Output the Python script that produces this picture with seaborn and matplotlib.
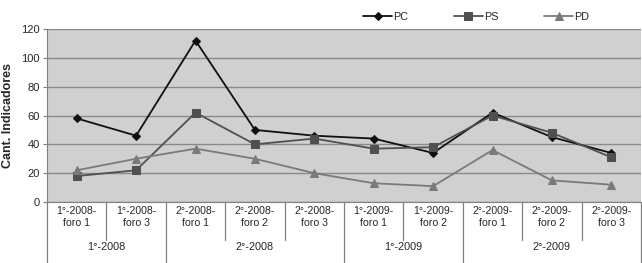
import matplotlib
matplotlib.use("Agg")
import matplotlib.pyplot as plt
import matplotlib.transforms as mtransforms
import seaborn as sns
import pandas as pd

categories = ["1°-2008-\nforo 1", "1°-2008-\nforo 3", "2°-2008-\nforo 1", "2°-2008-\nforo 2",
              "2°-2008-\nforo 3", "1°-2009-\nforo 1", "1°-2009-\nforo 2", "2°-2009-\nforo 1",
              "2°-2009-\nforo 2", "2°-2009-\nforo 3"]
groups = ["1°-2008", "2°-2008", "1°-2009", "2°-2009"]
group_sizes = [2, 3, 2, 3]
pc = [58, 46, 112, 50, 46, 44, 34, 62, 45, 34]
ps = [18, 22, 62, 40, 44, 37, 38, 60, 48, 31]
pd_ = [22, 30, 37, 30, 20, 13, 11, 36, 15, 12]
yticks = [0, 20, 40, 60, 80, 100, 120]

sns.set_style("white")
plt.rcParams['font.family'] = ['Liberation Sans', 'DejaVu Sans']

fig = plt.figure(figsize=(6.42, 2.63), dpi=100)
ax = fig.add_axes([47/642, 1-202/263, 594/642, 173/263])
ax.set_facecolor("#d0d0d0")

x = list(range(len(categories)))
series = [("PC", pc, "#101010", "D", 4.5), ("PS", ps, "#505050", "s", 5.5), ("PD", pd_, "#7a7a7a", "^", 5.5)]
for name, vals, col, mk, ms in series:
    sns.lineplot(x=x, y=vals, ax=ax, color=col, marker=mk, markersize=ms, markeredgecolor=col,
                 linewidth=1.3, label=name)

ax.set_xlim(-0.5, len(categories) - 0.5)
ax.set_ylim(0, 120)
ax.set_yticks(yticks)
ax.yaxis.grid(True, color="#8a8a8a", linewidth=1)
ax.set_axisbelow(True)
for s in ["top", "right"]:
    ax.spines[s].set_visible(False)
ax.spines["left"].set_color("#808080")
ax.spines["bottom"].set_color("#808080")
ax.tick_params(axis="y", length=3, color="#808080", labelsize=8, pad=2, left=True)
ax.set_xticks(x)
ax.set_xticklabels(categories, fontsize=7.6, linespacing=1.2)
ax.tick_params(axis="x", length=0, pad=3)
ax.set_ylabel("Cant. Indicadores", fontsize=9, fontweight="bold", labelpad=5)

trans = mtransforms.blended_transform_factory(ax.transData, ax.transAxes)
bounds = []
pos = -0.5
for g in group_sizes:
    bounds.append(pos)
    pos += g
bounds.append(pos)
for i in range(len(categories) + 1):
    b = i - 0.5
    bottom = -0.36 if b in bounds else -0.22
    ax.plot([b, b], [0, bottom], transform=trans, color="#808080", linewidth=0.9, clip_on=False)

start = -0.5
for g, n in zip(groups, group_sizes):
    ax.text(start + n / 2, -0.26, g, transform=trans, ha="center", va="center", fontsize=7.8)
    start += n

leg = ax.legend(loc="lower left", bbox_to_anchor=(363/642, 1-22/263), bbox_transform=fig.transFigure,
                ncol=3, frameon=False, fontsize=7.8, handlelength=2.7, handletextpad=0.1,
                columnspacing=4.2, borderpad=0, borderaxespad=0)

fig.savefig("out.png", dpi=100)
